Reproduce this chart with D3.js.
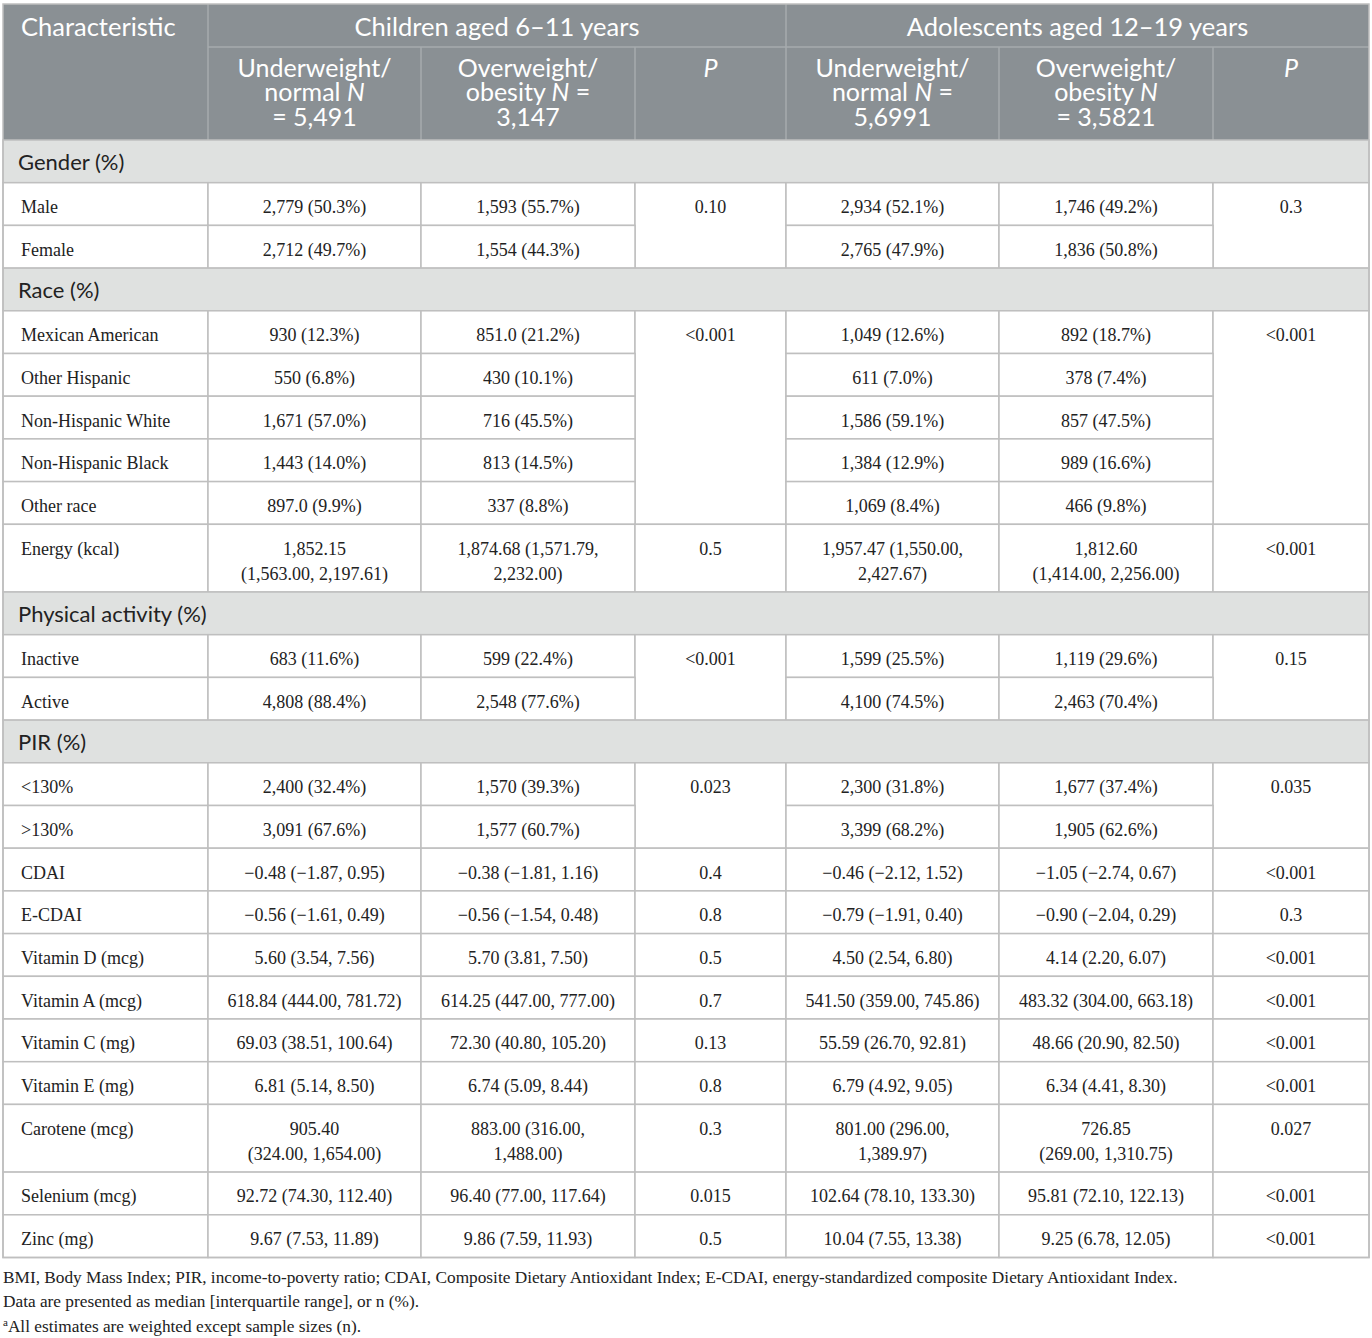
<!DOCTYPE html>
<html>
<head>
<meta charset="utf-8">
<script src="https://cdn.jsdelivr.net/npm/d3@7"></script>
<style>
  body { margin: 0; background: #fff; }
  svg text { font-family: "Liberation Serif", serif; }
</style>
</head>
<body>
<div id="div_1"></div>
<script>
/* DATA */
const groupHeaders = ["Children aged 6–11 years", "Adolescents aged 12–19 years"];
// each sub header: lines, parts in [text, italic]
const subHeaders = [
  [[["Underweight/", 0]], [["normal ", 0], ["N", 1]], [["= 5,491", 0]]],
  [[["Overweight/", 0]], [["obesity ", 0], ["N", 1], [" =", 0]], [["3,147", 0]]],
  [[["P", 1]]],
  [[["Underweight/", 0]], [["normal ", 0], ["N", 1], [" =", 0]], [["5,6991", 0]]],
  [[["Overweight/", 0]], [["obesity ", 0], ["N", 1]], [["= 3,5821", 0]]],
  [[["P", 1]]]
];

const sectionRows = ["Gender (%)", "Race (%)", "Physical activity (%)", "PIR (%)"];

const characteristics = [
  "Gender (%)", "Male", "Female",
  "Race (%)", "Mexican American", "Other Hispanic", "Non-Hispanic White", "Non-Hispanic Black", "Other race",
  "Energy (kcal)",
  "Physical activity (%)", "Inactive", "Active",
  "PIR (%)", "<130%", ">130%",
  "CDAI", "E-CDAI", "Vitamin D (mcg)", "Vitamin A (mcg)", "Vitamin C (mg)", "Vitamin E (mg)",
  "Carotene (mcg)", "Selenium (mcg)", "Zinc (mg)"
];

const childUnder = [
  null, "2,779 (50.3%)", "2,712 (49.7%)",
  null, "930 (12.3%)", "550 (6.8%)", "1,671 (57.0%)", "1,443 (14.0%)", "897.0 (9.9%)",
  "1,852.15\n(1,563.00, 2,197.61)",
  null, "683 (11.6%)", "4,808 (88.4%)",
  null, "2,400 (32.4%)", "3,091 (67.6%)",
  "−0.48 (−1.87, 0.95)", "−0.56 (−1.61, 0.49)", "5.60 (3.54, 7.56)", "618.84 (444.00, 781.72)",
  "69.03 (38.51, 100.64)", "6.81 (5.14, 8.50)", "905.40\n(324.00, 1,654.00)",
  "92.72 (74.30, 112.40)", "9.67 (7.53, 11.89)"
];

const childOver = [
  null, "1,593 (55.7%)", "1,554 (44.3%)",
  null, "851.0 (21.2%)", "430 (10.1%)", "716 (45.5%)", "813 (14.5%)", "337 (8.8%)",
  "1,874.68 (1,571.79,\n2,232.00)",
  null, "599 (22.4%)", "2,548 (77.6%)",
  null, "1,570 (39.3%)", "1,577 (60.7%)",
  "−0.38 (−1.81, 1.16)", "−0.56 (−1.54, 0.48)", "5.70 (3.81, 7.50)", "614.25 (447.00, 777.00)",
  "72.30 (40.80, 105.20)", "6.74 (5.09, 8.44)", "883.00 (316.00,\n1,488.00)",
  "96.40 (77.00, 117.64)", "9.86 (7.59, 11.93)"
];

// "" = merged with the P cell above
const childP = [
  null, "0.10", "",
  null, "<0.001", "", "", "", "",
  "0.5",
  null, "<0.001", "",
  null, "0.023", "",
  "0.4", "0.8", "0.5", "0.7", "0.13", "0.8", "0.3", "0.015", "0.5"
];

const adolUnder = [
  null, "2,934 (52.1%)", "2,765 (47.9%)",
  null, "1,049 (12.6%)", "611 (7.0%)", "1,586 (59.1%)", "1,384 (12.9%)", "1,069 (8.4%)",
  "1,957.47 (1,550.00,\n2,427.67)",
  null, "1,599 (25.5%)", "4,100 (74.5%)",
  null, "2,300 (31.8%)", "3,399 (68.2%)",
  "−0.46 (−2.12, 1.52)", "−0.79 (−1.91, 0.40)", "4.50 (2.54, 6.80)", "541.50 (359.00, 745.86)",
  "55.59 (26.70, 92.81)", "6.79 (4.92, 9.05)", "801.00 (296.00,\n1,389.97)",
  "102.64 (78.10, 133.30)", "10.04 (7.55, 13.38)"
];

const adolOver = [
  null, "1,746 (49.2%)", "1,836 (50.8%)",
  null, "892 (18.7%)", "378 (7.4%)", "857 (47.5%)", "989 (16.6%)", "466 (9.8%)",
  "1,812.60\n(1,414.00, 2,256.00)",
  null, "1,119 (29.6%)", "2,463 (70.4%)",
  null, "1,677 (37.4%)", "1,905 (62.6%)",
  "−1.05 (−2.74, 0.67)", "−0.90 (−2.04, 0.29)", "4.14 (2.20, 6.07)", "483.32 (304.00, 663.18)",
  "48.66 (20.90, 82.50)", "6.34 (4.41, 8.30)", "726.85\n(269.00, 1,310.75)",
  "95.81 (72.10, 122.13)", "9.25 (6.78, 12.05)"
];

const adolP = [
  null, "0.3", "",
  null, "<0.001", "", "", "", "",
  "<0.001",
  null, "0.15", "",
  null, "0.035", "",
  "<0.001", "0.3", "<0.001", "<0.001", "<0.001", "<0.001", "0.027", "<0.001", "<0.001"
];

const footnotes = [
  ["", "BMI, Body Mass Index; PIR, income-to-poverty ratio; CDAI, Composite Dietary Antioxidant Index; E-CDAI, energy-standardized composite Dietary Antioxidant Index."],
  ["", "Data are presented as median [interquartile range], or n (%)."],
  ["a", "All estimates are weighted except sample sizes (n)."]
];

/* LAYOUT */
const W = 1372, H = 1338;
const colEdges = [3, 208, 421, 635, 786, 999, 1213, 1369];
const headTop = 4, head1 = 43, head2 = 93;
const rowH = 42.7, lineH = 25;
const headerFill = "#8a9094", headerLine = "#a6abae", sectionFill = "#dfe1e0", border = "#bfbfbf";
const serifFont = "'Liberation Serif', 'Times New Roman', serif";
const sansFont = "Lato, 'Open Sans', sans-serif";

const valueCols = [childUnder, childOver, childP, adolUnder, adolOver, adolP];

// row heights by number of lines
let rows = characteristics.map((c, i) => {
  const lines = d3.max(valueCols, col => col[i] ? col[i].split("\n").length : 1);
  return { label: c, i: i, section: sectionRows.includes(c), h: rowH + (lines - 1) * lineH };
});
let yAcc = headTop + head1 + head2;
rows.forEach(r => { r.y = yAcc; yAcc += r.h; });
const tableBottom = yAcc;

const svg = d3.select("#div_1").append("svg")
  .attr("width", W).attr("height", H);

/* HEADER */
svg.append("rect")
  .attr("x", colEdges[0]).attr("y", headTop)
  .attr("width", colEdges[7] - colEdges[0]).attr("height", head1 + head2)
  .attr("fill", headerFill);

// header divider lines
const hdr = svg.append("g").attr("stroke", headerLine).attr("stroke-width", 1.5);
[1, 4].forEach(k => hdr.append("line")
  .attr("x1", colEdges[k]).attr("x2", colEdges[k])
  .attr("y1", headTop).attr("y2", headTop + head1 + head2));
[2, 3, 5, 6].forEach(k => hdr.append("line")
  .attr("x1", colEdges[k]).attr("x2", colEdges[k])
  .attr("y1", headTop + head1).attr("y2", headTop + head1 + head2));
hdr.append("line")
  .attr("x1", colEdges[1]).attr("x2", colEdges[7])
  .attr("y1", headTop + head1).attr("y2", headTop + head1);

svg.append("text")
  .attr("x", colEdges[0] + 18).attr("y", headTop + 23)
  .attr("dy", "0.35em")
  .style("font-family", sansFont).style("font-size", "25.5px").attr("fill", "#fff")
  .text("Characteristic");

groupHeaders.forEach((g, k) => {
  const x0 = colEdges[1 + k * 3], x1 = colEdges[4 + k * 3];
  svg.append("text")
    .attr("x", (x0 + x1) / 2).attr("y", headTop + 23)
    .attr("dy", "0.35em").attr("text-anchor", "middle")
    .style("font-family", sansFont).style("font-size", "25.5px").attr("fill", "#fff")
    .text(g);
});

subHeaders.forEach((lines, k) => {
  const cx = (colEdges[k + 1] + colEdges[k + 2]) / 2;
  lines.forEach((parts, li) => {
    const t = svg.append("text")
      .attr("x", cx).attr("y", headTop + head1 + 21 + li * 24.5)
      .attr("dy", "0.35em").attr("text-anchor", "middle")
      .style("font-family", sansFont).style("font-size", "25px").attr("fill", "#fff");
    parts.forEach(p => {
      t.append("tspan").style("font-style", p[1] ? "italic" : "normal").text(p[0]);
    });
  });
});

/* BODY */
const body = svg.append("g");

rows.forEach(r => {
  if (r.section) {
    body.append("rect")
      .attr("x", colEdges[0]).attr("y", r.y)
      .attr("width", colEdges[7] - colEdges[0]).attr("height", r.h)
      .attr("fill", sectionFill).attr("stroke", border).attr("stroke-width", 1.5);
    body.append("text")
      .attr("x", colEdges[0] + 15).attr("y", r.y + r.h / 2 + 1)
      .attr("dy", "0.35em")
      .style("font-family", sansFont).style("font-size", "22px").attr("fill", "#222")
      .text(r.label);
    return;
  }
  // label cell
  body.append("rect")
    .attr("x", colEdges[0]).attr("y", r.y)
    .attr("width", colEdges[1] - colEdges[0]).attr("height", r.h)
    .attr("fill", "#fff").attr("stroke", border).attr("stroke-width", 1.5);
  body.append("text")
    .attr("x", colEdges[0] + 18).attr("y", r.y + 24)
    .attr("dy", "0.35em")
    .style("font-family", serifFont).style("font-size", "18px").attr("fill", "#222")
    .text(r.label);

  valueCols.forEach((col, k) => {
    const v = col[r.i];
    if (v === "") return; // covered by merged cell above
    // span down over merged rows
    let h = r.h, j = r.i + 1;
    while (j < rows.length && col[j] === "") { h += rows[j].h; j++; }
    body.append("rect")
      .attr("x", colEdges[k + 1]).attr("y", r.y)
      .attr("width", colEdges[k + 2] - colEdges[k + 1]).attr("height", h)
      .attr("fill", "#fff").attr("stroke", border).attr("stroke-width", 1.5);
    v.split("\n").forEach((line, li) => {
      body.append("text")
        .attr("x", (colEdges[k + 1] + colEdges[k + 2]) / 2)
        .attr("y", r.y + 24 + li * lineH)
        .attr("dy", "0.35em").attr("text-anchor", "middle")
        .style("font-family", serifFont).style("font-size", "18px").attr("fill", "#222")
        .text(line);
    });
  });
});

// outer frame
svg.append("rect")
  .attr("x", colEdges[0]).attr("y", headTop)
  .attr("width", colEdges[7] - colEdges[0]).attr("height", tableBottom - headTop)
  .attr("fill", "none").attr("stroke", border).attr("stroke-width", 1.5);

/* FOOTNOTES */
footnotes.forEach((f, i) => {
  const t = svg.append("text")
    .attr("x", colEdges[0]).attr("y", tableBottom + 19 + i * 24.5)
    .attr("dy", "0.35em")
    .style("font-family", serifFont).style("font-size", "17.3px").attr("fill", "#222");
  if (f[0]) {
    t.append("tspan").attr("baseline-shift", "super").style("font-size", "11px").text(f[0]);
    t.append("tspan").text(f[1]);
  } else {
    t.text(f[1]);
  }
});
</script>
</body>
</html>
